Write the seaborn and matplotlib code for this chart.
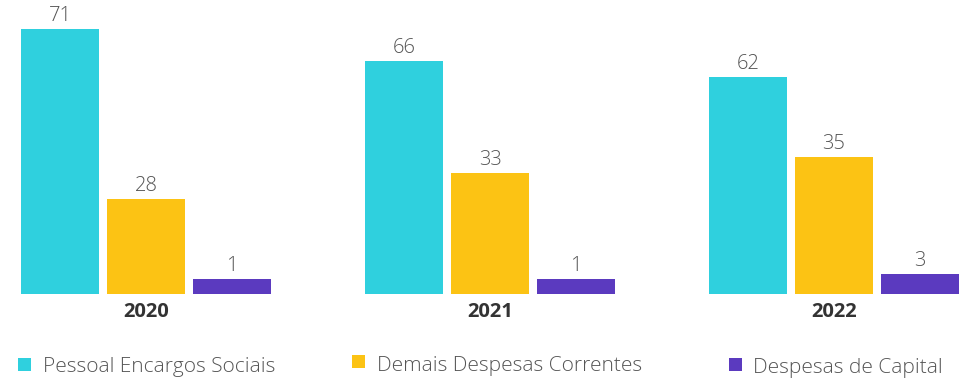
import matplotlib
matplotlib.use("Agg")
import matplotlib.pyplot as plt
import seaborn as sns
import pandas as pd
from matplotlib.patches import Rectangle

years = ["2020", "2021", "2022"]
categories = ["Pessoal Encargos Sociais", "Demais Despesas Correntes", "Despesas de Capital"]
# bar heights
pessoal = [71.0, 62.4, 58.1]
demais = [25.5, 32.4, 36.7]
capital = [4.0, 4.0, 5.4]
# labels shown above the bars
pessoal_lbl = ["71", "66", "62"]
demais_lbl = ["28", "33", "35"]
capital_lbl = ["1", "1", "3"]

colors = ["#2FD0DE", "#FCC314", "#5B3ABF"]

rows = []
for i, y in enumerate(years):
    rows.append((y, categories[0], pessoal[i]))
    rows.append((y, categories[1], demais[i]))
    rows.append((y, categories[2], capital[i]))
df = pd.DataFrame(rows, columns=["year", "category", "value"])

sns.set_theme(style="white")
plt.rcParams["font.family"] = ["Open Sans", "DejaVu Sans"]

fig = plt.figure(figsize=(9.66, 3.79), dpi=100)
ax = fig.add_axes([0, 0, 1, 1])
sns.barplot(data=df, x="year", y="value", hue="category", hue_order=categories,
            palette=colors, width=0.75, gap=0.093, ax=ax, legend=False,
            saturation=1, edgecolor="none", linewidth=0)

ax.set_xlim(-0.4244, 2.3837)
ax.set_ylim(-22.78, 78.78)
for s in ax.spines.values():
    s.set_visible(False)
ax.set_xticks([])
ax.set_yticks([])
ax.set_xlabel("")
ax.set_ylabel("")

lbls = [pessoal_lbl, demais_lbl, capital_lbl]
for cont, lb in zip(ax.containers, lbls):
    ax.bar_label(cont, labels=lb, padding=2, fontsize=14.5, color="#555555",
                 fontweight="light")

for i, y in enumerate(years):
    ax.text(i, -4.7, y, ha="center", va="center", fontsize=14.5,
            fontweight="bold", color="#333333")

# legend items: (square x, square top, text x, text baseline) in pixels
W, H = 966, 379
items = [(18, 358.3, 42.7, 372.3), (352, 355.3, 376.7, 370.7), (729.3, 358.3, 753.3, 373.0)]
for (sx, sy, tx, by), lab, col in zip(items, categories, colors):
    fig.patches.append(Rectangle((sx / W, 1 - (sy + 12.6) / H), 12.6 / W, 12.6 / H,
                                 transform=fig.transFigure, facecolor=col,
                                 edgecolor="none"))
    fig.text(tx / W, 1 - by / H, lab, ha="left", va="baseline", fontsize=15,
             color="#555555", fontweight="light")

fig.savefig("out.png", dpi=100)
